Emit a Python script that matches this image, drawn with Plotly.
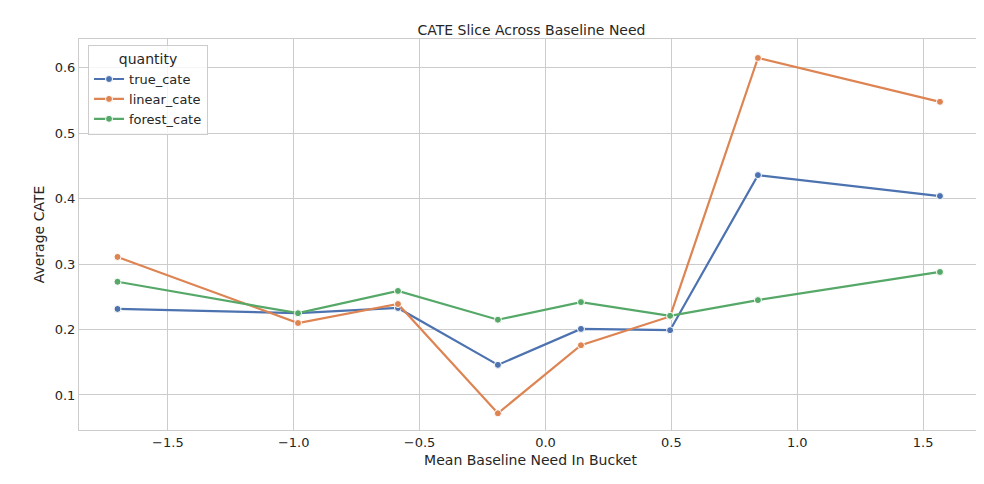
import plotly.graph_objects as go

x = [-1.70, -0.983, -0.586, -0.189, 0.141, 0.495, 0.844, 1.567]
true_cate = [0.2315, 0.225, 0.233, 0.146, 0.201, 0.199, 0.436, 0.404]
linear_cate = [0.311, 0.210, 0.239, 0.072, 0.176, 0.220, 0.615, 0.548]
forest_cate = [0.273, 0.225, 0.259, 0.215, 0.242, 0.221, 0.245, 0.288]
names = ["true_cate", "linear_cate", "forest_cate"]
colors = ["#4c72b0", "#dd8452", "#55a868"]

fig = go.Figure()
for n, vals, c in zip(names, [true_cate, linear_cate, forest_cate], colors):
    fig.add_trace(go.Scatter(x=x, y=vals, name=n, mode="lines+markers",
                             line=dict(color=c, width=2.2),
                             marker=dict(size=7, color=c, line=dict(color="white", width=1))))

fig.update_layout(
    width=984, height=484, paper_bgcolor="white", plot_bgcolor="white",
    margin=dict(l=71, r=10, t=31, b=62, autoexpand=False),
    font=dict(family="DejaVu Sans", size=13, color="#262626"),
    title=dict(text="CATE Slice Across Baseline Need", x=0.532, xanchor="center", y=0.965, font=dict(size=14)),
    legend=dict(title=dict(text="quantity", side="top center", font=dict(size=14)), x=0.01, y=0.985, xanchor="left", yanchor="top",
                bordercolor="#cccccc", borderwidth=1, bgcolor="rgba(255,255,255,0.8)", font=dict(size=13)),
    showlegend=True,
)
fig.update_xaxes(range=[-1.853, 1.734], tickvals=[-1.5, -1.0, -0.5, 0.0, 0.5, 1.0, 1.5],
                 ticktext=["−1.5", "−1.0", "−0.5", "0.0", "0.5", "1.0", "1.5"], automargin=False,
                 showgrid=True, gridcolor="#cccccc", zeroline=False, showline=True, linecolor="#cccccc", mirror=True,
                 title=dict(text="Mean Baseline Need In Bucket", font=dict(size=14), standoff=6))
fig.update_yaxes(range=[0.0465, 0.644], tickvals=[0.1, 0.2, 0.3, 0.4, 0.5, 0.6], tickformat=".1f", automargin=False,
                 showgrid=True, gridcolor="#cccccc", zeroline=False, showline=True, linecolor="#cccccc", mirror=True,
                 title=dict(text="Average CATE", font=dict(size=14), standoff=6))
fig.write_html("out.html")
